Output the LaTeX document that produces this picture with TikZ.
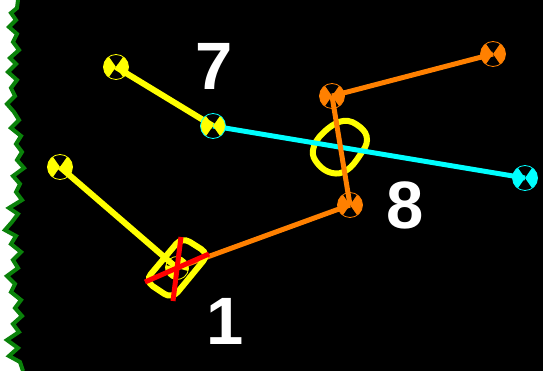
\documentclass[tikz,border=0pt]{standalone}
\usepackage{fontspec}
\setmainfont{Liberation Sans}
\definecolor{myyel}{RGB}{255,255,0}
\definecolor{myora}{RGB}{255,128,0}
\definecolor{mycya}{RGB}{0,255,255}
\definecolor{myred}{RGB}{255,0,0}
\definecolor{mygrn}{RGB}{10,130,10}
\begin{document}
\begin{tikzpicture}[x=1pt,y=-1pt,
  mk/.style 2 args={circle, inner sep=0pt, minimum size=25pt, draw=#2, line width=0.8pt,
    path picture={
      \fill[#1] (path picture bounding box.center) -- +(125:20pt) -- +(180:20pt) -- +(235:20pt) -- cycle;
      \fill[#1] (path picture bounding box.center) -- +(55:20pt) -- +(0:20pt) -- +(-55:20pt) -- cycle;}},
  yl/.style={draw=myyel, line width=6pt},
  ol/.style={draw=myora, line width=5pt},
  cl/.style={draw=mycya, line width=5pt},
  rl/.style={draw=myred, line width=5pt},
  lbl/.style={text=white, inner sep=0pt, font=\fontsize{67}{67}\selectfont\bfseries}
]
\useasboundingbox (0,0) rectangle (543,371);
\fill[white] (0,0) rectangle (543,371);
\def\jag{(18,0) (17,8) (11,13) (16,20) (9,27) (17,34) (13,42) (19,50) (10,58) (16,64) (8,72) (17,80) (11,88) (15,96) (7,104) (14,112) (19,120) (11,128) (21,136) (16,144) (22,152) (17,160) (24,168) (13,176) (20,184) (16,192) (22,200) (9,208) (18,214) (12,222) (5,230) (16,236) (11,244) (21,252) (13,260) (18,268) (7,276) (15,284) (11,292) (21,300) (15,308) (22,316) (13,324) (19,332) (7,340) (18,348) (9,356) (20,362) (23,371)}
\fill[black] plot coordinates {\jag} -- (543,371) -- (543,0) -- cycle;
\draw[mygrn, line width=4pt, line join=miter] plot coordinates {\jag};

% positions
\coordinate (A) at (116,67);
\coordinate (B) at (213,126);
\coordinate (C) at (60,167);
\coordinate (O) at (177,268);
\coordinate (D) at (350,205);
\coordinate (E) at (332,96);
\coordinate (F) at (493,54);
\coordinate (G) at (525,178);

% yellow loop
\draw[myyel, line width=6pt] plot[smooth cycle, tension=0.7] coordinates {(343,121) (360,127) (367,140) (360,155) (347,170) (332,173) (318,164) (313,150) (323,133)};

% connectors
\draw[yl] (A) -- (B);
\draw[yl] (C) -- (O);
\draw[cl] (B) -- (G);
\draw[ol] (O) -- (D);
\draw[ol] (D) -- (E);
\draw[ol] (E) -- (F);

% node 1 frame
\draw[myyel, line width=6pt, rounded corners=9pt] (182,237) -- (209,254) -- (172,299) -- (145,281) -- cycle;

% markers
\node[mk={myyel}{myyel}] (a) at (A) {};
\node[mk={myyel}{mycya}] (b) at (B) {};
\node[mk={myyel}{myyel}] (c) at (C) {};
\node[mk={myora}{myora}] (d) at (D) {};
\node[mk={myora}{myora}] (e) at (E) {};
\node[mk={myora}{myora}] (f) at (F) {};
\node[mk={mycya}{mycya}] (g) at (G) {};
\node[mk={myyel}{myyel}, minimum size=23pt, rotate=40] (o) at (O) {};

% red cross
\draw[rl] (181,237) -- (173,301);
\draw[rl] (145,282) -- (209,254);

% labels
\node[lbl] (l7) at (214,66) {7};
\node[lbl] (l8) at (405,205) {8};
\node[lbl] (l1) at (225,321) {1};
\end{tikzpicture}
\end{document}
